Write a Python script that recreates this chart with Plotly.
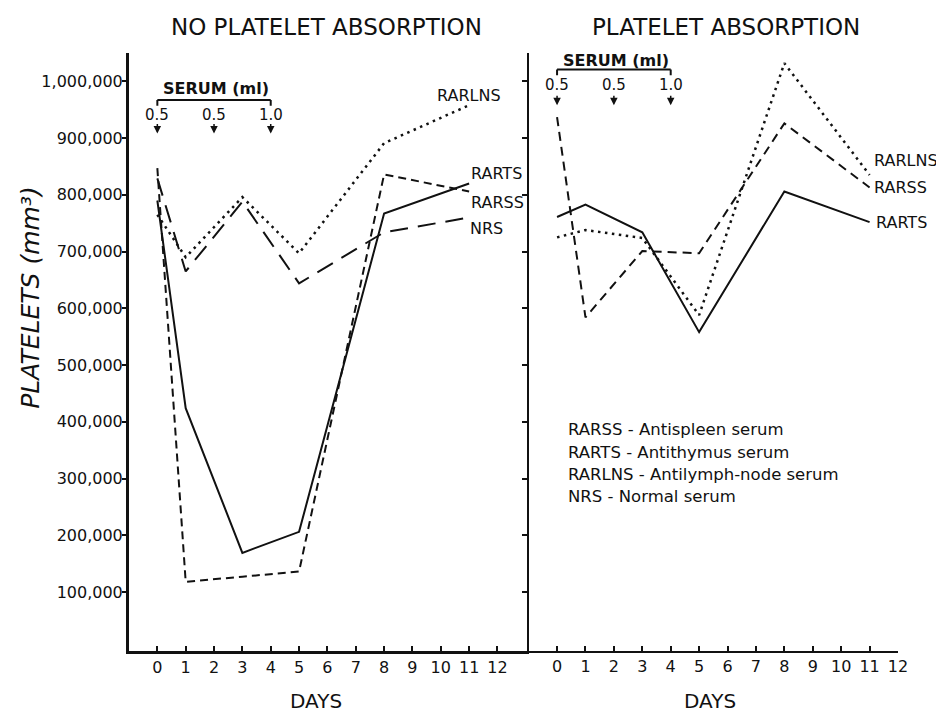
import plotly.graph_objects as go

# ---------------- data ----------------
days = [0, 1, 3, 5, 8, 11]

# Left panel: no platelet absorption
left_rarts = [790000, 424000, 169000, 206000, 767000, 820000]
left_rarss = [847000, 118000, 127000, 136000, 836000, 806000]
left_rarlns = [765000, 690000, 796000, 697000, 891000, 958000]
left_nrs = [829000, 665000, 788000, 644000, 734000, 760000]

# Right panel: platelet absorption
right_rarts = [761000, 783000, 734000, 558000, 806000, 752000]
right_rarss = [937000, 584000, 701000, 697000, 926000, 813000]
right_rarlns = [725000, 738000, 724000, 588000, 1032000, 835000]

y_ticks = [100000, 200000, 300000, 400000, 500000, 600000, 700000, 800000, 900000, 1000000]
y_ticklabels = ["100,000", "200,000", "300,000", "400,000", "500,000",
                "600,000", "700,000", "800,000", "900,000", "1,000,000"]
day_ticks = list(range(0, 13))

serum_days = [0, 2, 4]
serum_doses = ["0.5", "0.5", "1.0"]

legend_lines = ["RARSS - Antispleen serum", "RARTS - Antithymus serum",
                "RARLNS - Antilymph-node serum", "NRS - Normal serum"]

# ---------------- figure ----------------
FONT = "DejaVu Sans"
BLACK = "#111111"
fig = go.Figure()

def add(x, y, dash, xa, ya, width=2):
    fig.add_trace(go.Scatter(x=x, y=y, mode="lines", xaxis=xa, yaxis=ya,
                             line=dict(color=BLACK, width=width, dash=dash),
                             showlegend=False, hoverinfo="skip"))

add(days, left_rarts, "solid", "x", "y")
add(days, left_rarss, "8px,5px", "x", "y")
add(days, left_rarlns, "2.5px,4.5px", "x", "y", 2.5)
add(days, left_nrs, "18px,10px", "x", "y")

add(days, right_rarts, "solid", "x2", "y2")
add(days, right_rarss, "9px,6px", "x2", "y2")
add(days, right_rarlns, "2.5px,4.5px", "x2", "y2", 2.5)

YR = [-4000, 1050000]
split = 0.5197

fig.update_layout(
    width=936, height=705,
    margin=dict(l=121, r=46, t=45, b=62),
    paper_bgcolor="white", plot_bgcolor="white",
    font=dict(family=FONT, color=BLACK, size=15),
    xaxis=dict(domain=[0, split], range=[-1, 13.1], showgrid=False, zeroline=False,
               showline=True, linecolor=BLACK, linewidth=3,
               tickvals=day_ticks, ticktext=[str(d) for d in day_ticks],
               ticks="inside", ticklen=5, tickwidth=1.5, tickcolor=BLACK,
               tickfont=dict(size=16, family=FONT), anchor="y"),
    yaxis=dict(range=YR, showgrid=False, zeroline=False,
               showline=True, linecolor=BLACK, linewidth=3,
               tickvals=y_ticks, ticktext=y_ticklabels,
               ticks="outside", ticklen=4, tickwidth=1.5, tickcolor=BLACK,
               ticklabelstandoff=-4,
               tickfont=dict(size=16, family=FONT), anchor="x"),
    xaxis2=dict(domain=[split, 1], range=[-1, 12], showgrid=False, zeroline=False,
                showline=True, linecolor=BLACK, linewidth=2,
                tickvals=day_ticks, ticktext=[str(d) for d in day_ticks],
                ticks="inside", ticklen=5, tickwidth=1.5, tickcolor=BLACK,
                tickfont=dict(size=16, family=FONT), anchor="y2"),
    yaxis2=dict(range=YR, showgrid=False, zeroline=False,
                showline=True, linecolor=BLACK, linewidth=2,
                tickvals=y_ticks, showticklabels=False,
                ticks="outside", ticklen=5, tickwidth=1.5, tickcolor=BLACK,
                anchor="x2"),
)

ann = []
# Titles
ann.append(dict(text="NO PLATELET ABSORPTION", xref="paper", yref="paper", x=0.257, y=1.0435,
                showarrow=False, font=dict(size=23), xanchor="center", yanchor="middle"))
ann.append(dict(text="PLATELET ABSORPTION", xref="paper", yref="paper", x=0.776, y=1.0435,
                showarrow=False, font=dict(size=23), xanchor="center", yanchor="middle"))
ann.append(dict(text="DAYS", xref="paper", yref="paper", x=0.243, y=-0.083,
                showarrow=False, font=dict(size=20), xanchor="center", yanchor="middle"))
ann.append(dict(text="DAYS", xref="paper", yref="paper", x=0.755, y=-0.083,
                showarrow=False, font=dict(size=20), xanchor="center", yanchor="middle"))
ann.append(dict(text="<i>PLATELETS (mm³)</i>", xref="paper", yref="paper", x=-0.128, y=0.590,
                showarrow=False, textangle=-90, font=dict(size=25), xanchor="center", yanchor="middle"))

# Series labels
for txt, xx, yy, xr, yr in [
    ("RARLNS", 9.8, 975000, "x", "y"),
    ("RARTS", 11.0, 838000, "x", "y"),
    ("RARSS", 11.0, 787000, "x", "y"),
    ("NRS", 10.95, 741000, "x", "y"),
    ("RARLNS", 11.08, 861000, "x2", "y2"),
    ("RARSS", 11.08, 813000, "x2", "y2"),
    ("RARTS", 11.15, 752000, "x2", "y2"),
]:
    ann.append(dict(text=txt, x=xx, y=yy, xref=xr, yref=yr, showarrow=False,
                    xanchor="left", yanchor="middle", font=dict(size=16)))

# Legend text
for i, line in enumerate(legend_lines):
    ann.append(dict(text=line, x=0.32, y=386000 - i * 39500, xref="x2", yref="y2",
                    showarrow=False, xanchor="left", yanchor="middle", font=dict(size=16.5)))

# Serum brackets
shapes = []
for xr, yr, y_text, y_br, y_lab, y_tip in [
    ("x", "y", 988000, 967000, 940000, 908000),
    ("x2", "y2", 1037000, 1021000, 993000, 958000),
]:
    ann.append(dict(text="<b>SERUM (ml)</b>", x=2.06, y=y_text, xref=xr, yref=yr,
                    showarrow=False, xanchor="center", yanchor="middle", font=dict(size=16)))
    shapes.append(dict(type="line", xref=xr, yref=yr, x0=serum_days[0], x1=serum_days[-1],
                       y0=y_br, y1=y_br, line=dict(color=BLACK, width=2)))
    for d in (serum_days[0], serum_days[-1]):
        shapes.append(dict(type="line", xref=xr, yref=yr, x0=d, x1=d,
                           y0=y_br, y1=y_br - 10000, line=dict(color=BLACK, width=2)))
    for d, dose in zip(serum_days, serum_doses):
        ann.append(dict(text=dose, x=d, y=y_lab, xref=xr, yref=yr, showarrow=False,
                        xanchor="center", yanchor="middle", font=dict(size=15)))
        ann.append(dict(text="", x=d, y=y_tip, xref=xr, yref=yr, showarrow=True,
                        ax=0, ay=-11, arrowhead=2, arrowsize=1, arrowwidth=1.5,
                        arrowcolor=BLACK))

fig.update_layout(annotations=ann, shapes=shapes)
fig.write_html("out.html")
